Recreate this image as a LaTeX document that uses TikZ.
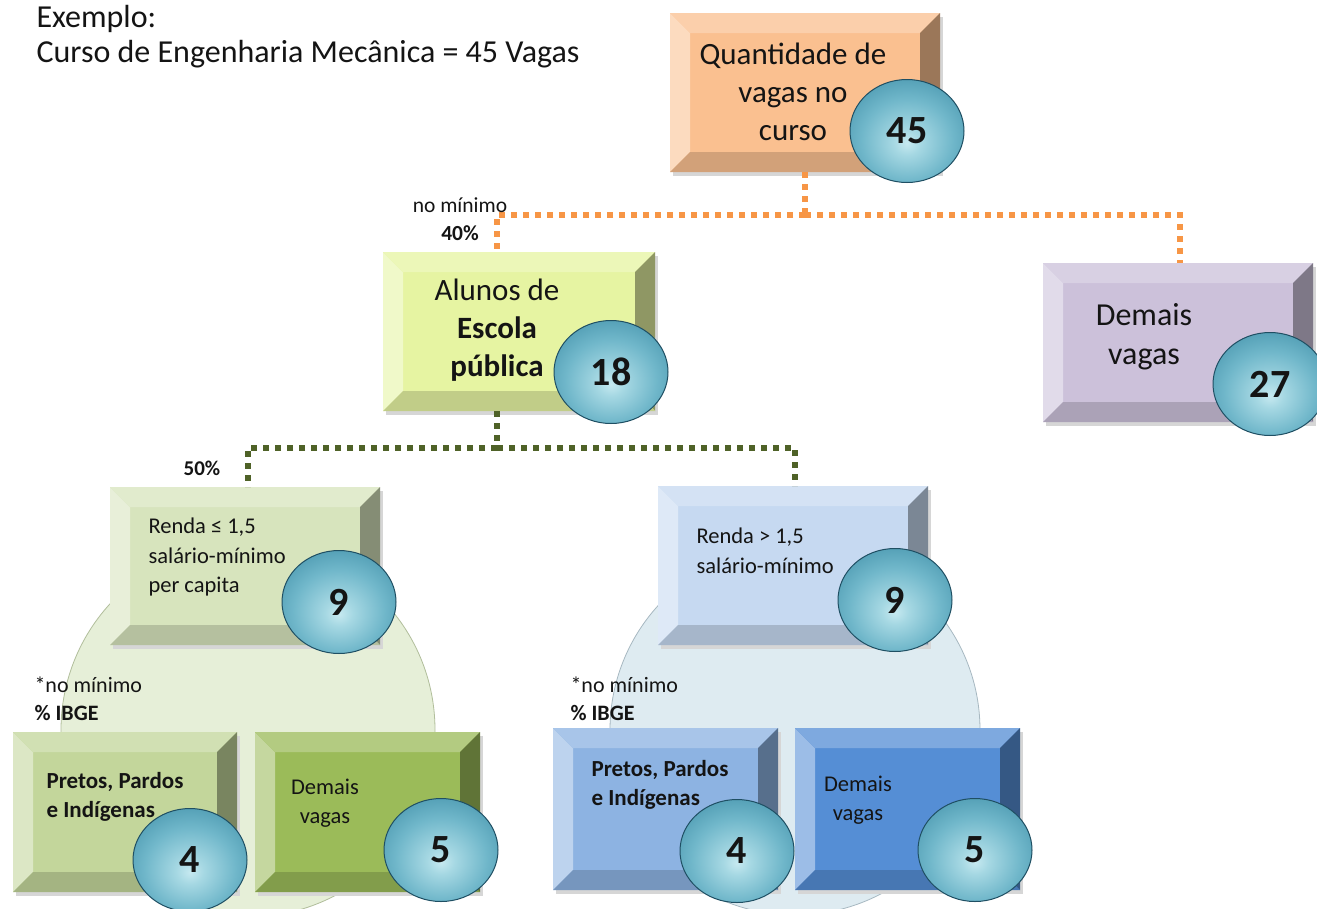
\documentclass[tikz,border=0pt]{standalone}
\usepackage{fontspec}
\setmainfont{Carlito}
\usetikzlibrary{shapes.geometric,calc}

\definecolor{ballin}{HTML}{C6E9F0}
\definecolor{ballin2}{HTML}{A6D8E3}
\definecolor{ballmid}{HTML}{70B7CA}
\definecolor{ballmid2}{HTML}{4694AC}
\definecolor{ballout}{HTML}{2A7189}
\definecolor{ballline}{HTML}{1F4F63}
\definecolor{bgin}{HTML}{E6EFD8}
\definecolor{bgout}{HTML}{D0DFB6}
\definecolor{bbin}{HTML}{DEEBF1}
\definecolor{bbout}{HTML}{C4D9E3}
\definecolor{corange}{HTML}{FAC090}
\definecolor{cyellow}{HTML}{E6F4A2}
\definecolor{cpurple}{HTML}{CCC1DA}
\definecolor{cgreenA}{HTML}{D7E4BD}
\definecolor{cblueA}{HTML}{C6D9F1}
\definecolor{cgreenB}{HTML}{C3D69B}
\definecolor{cgreenC}{HTML}{9BBB59}
\definecolor{cblueB}{HTML}{8DB3E2}
\definecolor{cblueC}{HTML}{558ED5}
\definecolor{lineorange}{HTML}{F79646}
\definecolor{lineolive}{HTML}{4F6228}
\definecolor{txt}{HTML}{141414}

\pgfdeclareradialshading{ballshade}{\pgfpoint{0bp}{-6bp}}{color(0bp)=(ballin); color(6bp)=(ballin2); color(20bp)=(ballmid); color(34bp)=(ballmid2); color(46bp)=(ballout); color(70bp)=(ballout)}
\pgfdeclareradialshading{bubgreen}{\pgfpoint{0bp}{0bp}}{color(0bp)=(bgin); color(40bp)=(bgin); color(50bp)=(bgout); color(60bp)=(bgout)}
\pgfdeclareradialshading{bubblue}{\pgfpoint{0bp}{0bp}}{color(0bp)=(bbin); color(40bp)=(bbin); color(50bp)=(bbout); color(60bp)=(bbout)}

\newcommand{\fsz}[2]{\fontsize{#1}{#2}\selectfont}

% name, x, y, w, h, colour
\newcommand{\mkbox}[6]{%
  \path node[boxshape, minimum width=#4pt, minimum height=#5pt] (#1) at (#2,#3) {};
  \fill[black!16] ([shift={(3,4)}]#1.north west) rectangle ([shift={(3,4)}]#1.south east);
  \fill[#6] (#1.north west) rectangle (#1.south east);
  \fill[#6!58!white] (#1.north west) -- ([shift={(20,20)}]#1.north west) -- ([shift={(20,-20)}]#1.south west) -- (#1.south west) -- cycle;
  \fill[#6!76!white] (#1.north west) -- (#1.north east) -- ([shift={(-20,20)}]#1.north east) -- ([shift={(20,20)}]#1.north west) -- cycle;
  \fill[#6!62!black] (#1.north east) -- ([shift={(-20,20)}]#1.north east) -- ([shift={(-20,-20)}]#1.south east) -- (#1.south east) -- cycle;
  \fill[#6!84!black] (#1.south west) -- (#1.south east) -- ([shift={(-20,-20)}]#1.south east) -- ([shift={(20,-20)}]#1.south west) -- cycle;
}

\begin{document}
\begin{tikzpicture}[x=1pt,y=-1pt,
  boxshape/.style={rectangle, inner sep=0pt, outer sep=0pt},
  ball/.style={ellipse, inner sep=0pt, minimum width=114pt, minimum height=103pt,
     shading=ballshade, draw=ballline, line width=1pt, text=txt,
     font=\bfseries\fsz{40}{40}},
  bubble/.style={circle, inner sep=0pt, minimum size=#1},
  odots/.style={draw=lineorange, line width=6pt, dash pattern=on 6pt off 6pt},
  gdots/.style={draw=lineolive, line width=6pt, dash pattern=on 6pt off 6pt},
  bigtxt/.style={align=center, text=txt, font=\fsz{31}{38}},
  smalltxt/.style={text=txt, font=\fsz{22.5}{29.5}},
  lbl/.style={text=txt, font=\fsz{21.5}{28}}
]
\useasboundingbox (0,0) rectangle (1317,908);
\fill[white] (0,0) rectangle (1317,908);

% background bubbles
\node[bubble=374pt, shading=bubgreen, draw=bgout!85!black, line width=0.8pt] (bubG) at (248,730) {};
\node[bubble=370pt, shading=bubblue, draw=bbout!85!black, line width=0.8pt] (bubB) at (795,730) {};

% boxes
\mkbox{top}{805}{92.5}{270}{159}{corange}
\coordinate (oj) at (805,215);
\coordinate (gj) at (497,448);
\mkbox{alunos}{519}{331.5}{272}{159}{cyellow}
\mkbox{demais}{1178}{342.5}{270}{159}{cpurple}
\mkbox{rl}{245}{566}{270}{158}{cgreenA}
\mkbox{rg}{793}{565.5}{270}{159}{cblueA}
\mkbox{pg}{125}{812}{224}{160}{cgreenB}
\mkbox{dg}{367.5}{812}{225}{160}{cgreenC}
\mkbox{pb}{665.5}{809}{225}{162}{cblueB}
\mkbox{db}{907.5}{809}{225}{162}{cblueC}

% connectors
\draw[odots] (top.south) -- (oj);
\draw[odots] (oj) -| ([xshift=-22pt]alunos.north);
\draw[odots] (oj) -| ([xshift=2pt]demais.north);
\draw[gdots] ([xshift=-22pt]alunos.south) -- (gj);
\draw[gdots] (gj) -| ([xshift=3pt]rl.north);
\draw[gdots] (gj) -| ([xshift=2pt]rg.north);

% texts
\node[anchor=west, align=left, text=txt, font=\fsz{32}{35}] (ex) at (33,37) {Exemplo:\\Curso de Engenharia Mecânica = 45 Vagas};
\node[bigtxt] (ttop) at (793,92) {Quantidade de\\vagas no\\curso};
\node[bigtxt] (talunos) at (497,330) {Alunos de\\\textbf{Escola}\\\textbf{pública}};
\node[bigtxt, font=\fsz{32}{39}] (tdemais) at (1144,337) {Demais\\vagas};
\node[smalltxt, anchor=west, align=left] (trl) at (145,557) {Renda ≤ 1,5\\salário-mínimo\\per capita};
\node[smalltxt, anchor=west, align=left] (trg) at (693,551) {Renda > 1,5\\salário-mínimo};
\node[smalltxt, anchor=west, align=left, font=\bfseries\fsz{23}{29}] (tpg) at (43,797) {Pretos, Pardos\\e Indígenas};
\node[smalltxt, align=center] (tdg) at (325,803) {Demais\\vagas};
\node[smalltxt, anchor=west, align=left, font=\bfseries\fsz{23}{29}] (tpb) at (588,785) {Pretos, Pardos\\e Indígenas};
\node[smalltxt, align=center] (tdb) at (858,800) {Demais\\vagas};
\node[lbl, anchor=west, align=left, font=\fsz{22}{28}] (nmg) at (31,699) {*no mínimo\\\textbf{\% IBGE}};
\node[lbl, anchor=west, align=left, font=\fsz{22}{28}] (nmb) at (567,699) {*no mínimo\\\textbf{\% IBGE}};
\node[lbl, align=center] (n40) at (460,219) {no mínimo\\\textbf{40\%}};
\node[lbl, font=\bfseries\fsz{21}{26}] (n50) at (202,468) {50\%};

% number balls
\node[ball] (b45) at (907,131) {45};
\node[ball] (b18) at (611,372) {18};
\node[ball] (b27) at (1270,384) {27};
\node[ball] (b9a) at (339,602) {9};
\node[ball] (b9b) at (895,600) {9};
\node[ball] (b4a) at (190,860) {4};
\node[ball] (b5a) at (441,850) {5};
\node[ball] (b4b) at (737,851) {4};
\node[ball] (b5b) at (975,850) {5};
\end{tikzpicture}
\end{document}
